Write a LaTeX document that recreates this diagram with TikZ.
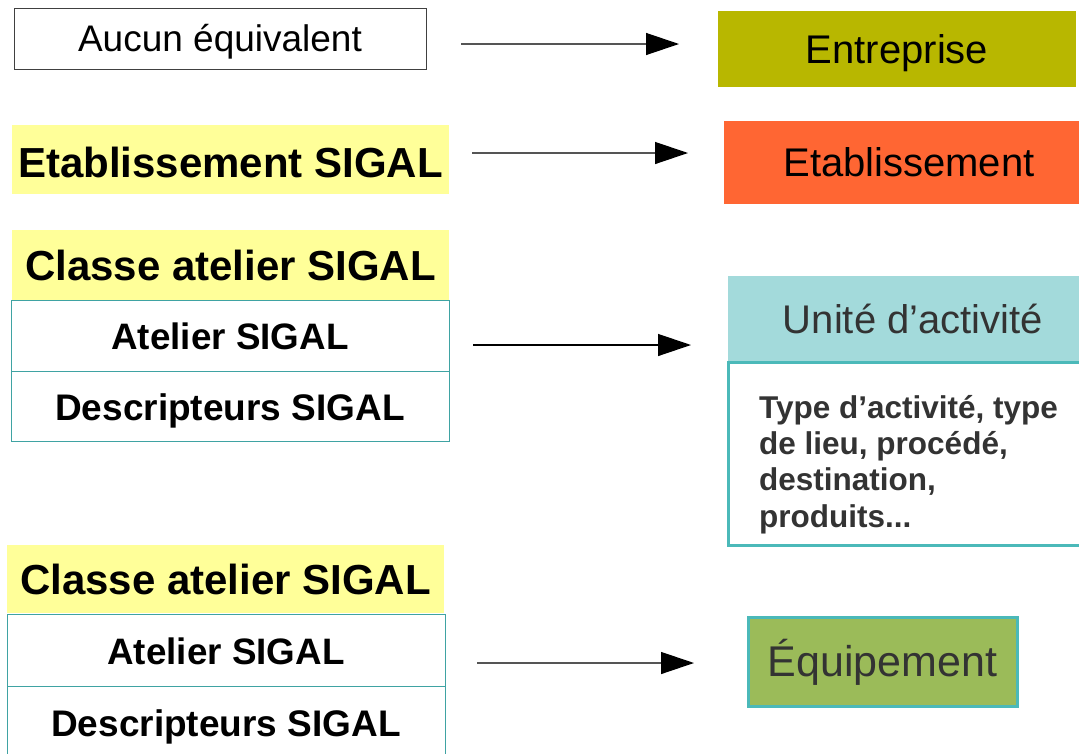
\documentclass[tikz,border=0pt]{standalone}
\usepackage{fontspec}
\setmainfont{Liberation Sans}
\usetikzlibrary{arrows.meta}
\definecolor{olivebox}{HTML}{B8B700}
\definecolor{orangebox}{HTML}{FF6633}
\definecolor{yellowbox}{HTML}{FFFF99}
\definecolor{tealhead}{HTML}{A3DADB}
\definecolor{tealline}{HTML}{4BB9B9}
\definecolor{tealthin}{HTML}{3FA3A3}
\definecolor{greenbox}{HTML}{9BBB59}
\definecolor{darktext}{HTML}{333333}
\definecolor{arrowgray}{HTML}{555555}
\tikzset{
  box/.style={rectangle, inner sep=0pt, outer sep=0pt, text depth=0pt},
  reg/.style={font=\fontsize{#1}{#1}\selectfont},
  bld/.style={font=\fontsize{#1}{#1}\selectfont\bfseries},
  yel/.style={box, fill=yellowbox, text height=30pt},
  thin/.style={box, draw=tealthin, line width=1pt, text height=27pt},
  conn/.style={draw=arrowgray, line width=1.3pt, -{Triangle[length=33pt,width=22pt,color=black]}},
}
\begin{document}
\begin{tikzpicture}[x=1pt,y=-1pt]
\useasboundingbox (0,0) rectangle (1079,753);
\clip (0,0) rectangle (1079,753);
% left column
\node[box, draw=black!75, line width=1pt, reg=37, text height=26.5pt,
      minimum width=412pt, minimum height=61pt] (aucun) at (220,38.5) {Aucun équivalent};
\node[yel, bld=42, text height=35pt, minimum width=437pt, minimum height=69pt] (etabS) at (230.5,159.5) {Etablissement SIGAL};
\node[yel, bld=42, minimum width=437pt, minimum height=70pt] (classeA) at (230.5,265) {Classe atelier SIGAL};
\node[thin, bld=36.8, text height=28pt, minimum width=438pt, minimum height=71pt] (atelierA) at (230,335.5) {Atelier SIGAL};
\node[thin, bld=37, text height=28pt, minimum width=438pt, minimum height=70pt] (descrA) at (230,406) {Descripteurs SIGAL};
\node[yel, bld=42, minimum width=437pt, minimum height=68pt] (classeB) at (225.5,579) {Classe atelier SIGAL};
\node[thin, bld=36.8, text height=28pt, minimum width=438pt, minimum height=72pt] (atelierB) at (226,650) {Atelier SIGAL};
\node[thin, bld=37, text height=28pt, minimum width=438pt, minimum height=72pt] (descrB) at (226,722) {Descripteurs SIGAL};
% right column
\node[box, fill=olivebox, reg=40, text height=28.6pt, minimum width=358pt, minimum height=76pt] (entr) at (897,49) {Entreprise};
\node[box, fill=orangebox, reg=40, text height=28.6pt, minimum width=370pt, minimum height=83pt] (etab) at (909,162.5) {Etablissement};
\node[box, fill=tealhead, text=darktext, reg=40, text height=28.6pt, minimum width=370pt, minimum height=86pt] (unite) at (913,319) {Unité d’activité};
\node[box, draw=tealline, line width=3pt, minimum width=366pt, minimum height=183pt] (uniteBody) at (911.5,453.5) {};
\node[anchor=north west, inner sep=0pt, align=left, text=darktext,
      font=\fontsize{31.5}{36.3}\selectfont\bfseries] (descU) at (759,395)
      {Type d’activité, type\\de lieu, procédé,\\destination,\\produits...};
\node[box, fill=greenbox, draw=tealline, line width=3pt, text=darktext, reg=43, text height=30.5pt,
      minimum width=269pt, minimum height=89pt] (equip) at (882.5,661.5) {Équipement};
% connectors
\coordinate (s1) at (461,44);  \coordinate (e1) at (679,44);
\coordinate (s2) at (472,153); \coordinate (e2) at (688,153);
\coordinate (s3) at (473,345); \coordinate (e3) at (691,345);
\coordinate (s4) at (477,663); \coordinate (e4) at (694,663);
\draw[conn] (s1) -- (e1);
\draw[conn] (s2) -- (e2);
\draw[conn, draw=black] (s3) -- (e3);
\draw[conn] (s4) -- (e4);
\end{tikzpicture}
\end{document}
